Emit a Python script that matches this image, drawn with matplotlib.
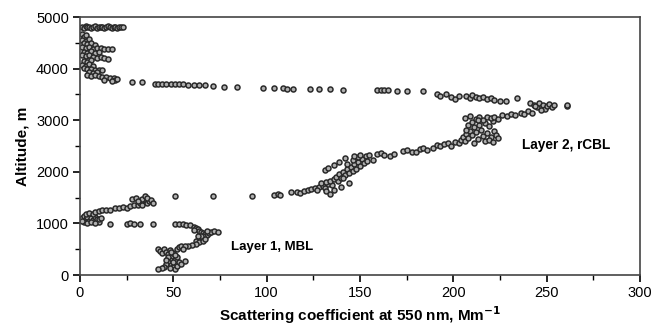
import numpy as np
import matplotlib.pyplot as plt
from matplotlib.ticker import MultipleLocator

plt.rcParams['font.family'] = ['Liberation Sans', 'DejaVu Sans']

# top row near 4800 m
top_x = [1, 2, 3, 4, 5, 6, 7, 8, 9, 10, 11, 12, 13, 14, 15, 16, 17, 18, 19, 20, 21, 22, 23]
top_alt = [4810, 4790, 4820, 4800, 4815, 4795, 4805, 4820, 4790, 4810, 4800, 4815, 4795,
           4810, 4820, 4800, 4790, 4810, 4805, 4795, 4815, 4800, 4810]

# upper cluster close to the axis (3800-4700 m)
upper_x = [1, 2, 3, 1, 3, 5, 2, 4, 6, 8, 1, 3, 5, 7, 9, 11, 13, 15, 17, 2, 4, 6, 8, 10,
           1, 3, 5, 7, 9, 11, 13, 15, 2, 4, 6, 1, 3, 5, 7, 2, 4, 6, 8, 10, 12, 5, 7, 9,
           4, 6, 8, 10, 12, 14, 16, 18, 19, 20, 17, 13]
upper_alt = [4680, 4620, 4650, 4560, 4540, 4580, 4490, 4470, 4500, 4460, 4420, 4400, 4420,
             4390, 4410, 4400, 4380, 4390, 4380, 4330, 4310, 4340, 4300, 4320, 4260, 4240,
             4260, 4220, 4200, 4220, 4200, 4190, 4150, 4130, 4160, 4080, 4060, 4090, 4050,
             4010, 3990, 4000, 3980, 3970, 3980, 3930, 3910, 3930, 3870, 3860, 3880, 3850,
             3840, 3830, 3820, 3810, 3780, 3800, 3770, 3790]

# sparse line at ~3700 m running out to the upper part of layer 2
line_x = [28, 33, 40, 42, 44, 46, 49, 51, 53, 55, 58, 61, 64, 67, 71, 77, 84, 98, 104, 109,
          111, 114, 123, 128, 134, 141, 159, 161, 163, 165, 170, 175, 184,
          191, 193, 196, 199, 201, 203, 207, 209, 210, 212, 214, 216, 218, 220, 222, 225,
          228, 234, 241, 243, 245, 246, 248, 249, 250, 251, 253, 254, 247, 244, 261, 261]
line_alt = [3735, 3735, 3710, 3710, 3705, 3710, 3700, 3700, 3705, 3700, 3690, 3690, 3680,
            3680, 3660, 3650, 3650, 3630, 3620, 3630, 3610, 3615, 3610, 3600, 3600, 3590,
            3590, 3585, 3590, 3580, 3575, 3570, 3560,
            3500, 3480, 3510, 3460, 3420, 3480, 3470, 3440, 3490, 3460, 3430, 3450, 3420,
            3440, 3390, 3370, 3380, 3430, 3340, 3300, 3250, 3330, 3290, 3210, 3270, 3310,
            3260, 3300, 3200, 3280, 3270, 3290]

# layer 2 (rCBL) band from ~1550 m up to ~3150 m
band_x = [51, 71, 92, 104, 106, 107, 113, 116, 118, 120, 122, 124, 126, 128, 127, 130, 131,
          133, 129, 132, 135, 134, 136, 138, 137, 139, 140, 141, 142, 143, 144, 145, 146,
          147, 148, 149, 150, 151, 149, 152, 153, 154, 146, 143, 141, 144, 140, 132, 134,
          136, 131, 133, 136, 139, 142, 147, 150, 155, 157,
          159, 161, 163, 166, 168, 173, 175, 178, 180, 182, 184, 186, 189, 191, 193, 195,
          197, 199, 201, 203, 204, 205, 206, 207, 208, 209, 210, 211, 212, 213, 214, 215,
          216, 217, 218, 219, 220, 221, 222, 223, 208, 210, 212, 214, 216, 218, 220, 222,
          224, 206, 209, 226, 229, 231, 233, 236, 238, 240, 242, 217, 219, 221, 224, 211,
          207, 213]
band_alt = [1530, 1540, 1530, 1560, 1570, 1560, 1600, 1610, 1590, 1620, 1640, 1660, 1680,
            1700, 1650, 1720, 1690, 1760, 1780, 1800, 1740, 1830, 1870, 1820, 1900, 1950,
            1880, 2000, 1930, 2050, 1980, 2100, 2020, 2150, 2060, 2200, 2120, 2250, 2280,
            2180, 2300, 2220, 2230, 2150, 1880, 1790, 1700, 1620, 1580, 1640, 2040, 2080,
            2130, 2200, 2260, 2310, 2320, 2320, 2230,
            2340, 2370, 2330, 2300, 2350, 2400, 2420, 2390, 2380, 2450, 2470, 2430, 2460,
            2520, 2500, 2540, 2560, 2510, 2580, 2560, 2620, 2680, 2600, 2740, 2660, 2800,
            2720, 2860, 2780, 2640, 2900, 2820, 2700, 2950, 2760, 2880, 2680, 2990, 2800,
            2720, 2900, 2960, 3020, 3060, 3010, 3070, 3040, 3060, 3030, 3040, 3080, 3100,
            3090, 3130, 3110, 3150, 3130, 3180, 3150, 2600, 2620, 2580, 2650, 2550, 2810,
            3000]

# near-axis points around 1000-1500 m
low_x = [1, 2, 3, 4, 5, 6, 2, 4, 7, 8, 9, 10, 3, 5, 1, 6, 8, 10, 11, 7,
         8, 10, 12, 14, 16, 19, 21, 23, 25, 27, 29, 31, 32, 34, 35, 36, 37, 28, 30, 33,
         35, 36, 38, 39, 31, 33,
         16, 25, 27, 29, 32, 39]
low_alt = [1100, 1150, 1080, 1120, 1050, 1100, 1020, 1000, 1060, 1130, 1080, 1020, 1180,
           1200, 1050, 1030, 1010, 1090, 1100, 1180,
           1230, 1250, 1260, 1270, 1260, 1290, 1300, 1310, 1290, 1330, 1350, 1360, 1390,
           1420, 1450, 1400, 1430, 1470, 1500, 1480, 1530, 1500, 1460, 1400, 1440, 1350,
           990, 990, 1000, 990, 980, 990]

# layer 1 (MBL)
mbl_x = [51, 53, 55, 57, 59, 61, 62, 63, 64, 65, 66, 67, 68, 69, 70, 72, 74, 66, 65, 64,
         63, 62, 64, 66, 62, 60, 58, 65, 67, 63, 61, 68,
         42, 43, 44, 45, 46, 47, 48, 49, 50, 51, 52, 53, 54, 56, 55, 48, 47, 46, 49, 50,
         51, 52, 53, 54, 56, 45, 44, 42, 48, 50, 52, 47, 49, 51, 46]
mbl_alt = [990, 980, 990, 970, 960, 940, 920, 890, 860, 840, 820, 800, 780, 820, 840, 850,
           830, 760, 720, 700, 680, 650, 640, 660, 600, 590, 570, 760, 700, 760, 880, 860,
           500, 470, 430, 510, 450, 400, 480, 350, 420, 300, 510, 550, 560, 570, 500, 300,
           260, 220, 200, 160, 120, 180, 250, 220, 270, 150, 130, 120, 130, 250, 340, 350,
           450, 380, 300]

fig = plt.figure(figsize=(6.54, 3.29), dpi=100)
ax = fig.add_axes([0.1223, 0.1641, 0.8563, 0.7839])

for xs, ys in [(top_x, top_alt), (upper_x, upper_alt), (line_x, line_alt),
               (band_x, band_alt), (low_x, low_alt), (mbl_x, mbl_alt)]:
    ax.plot(xs, ys, 'o', ms=3.6, mfc='#b0b0b0', mec='#2a2a2a', mew=1.1, ls='none')

ax.text(81, 545, 'Layer 1, MBL', fontsize=9.5, fontweight='bold', va='center', ha='left')
ax.text(237, 2530, 'Layer 2, rCBL', fontsize=9.8, fontweight='bold', va='center', ha='left')

ax.set_xlim(0, 300)
ax.set_ylim(0, 5000)
ax.xaxis.set_major_locator(MultipleLocator(50))
ax.xaxis.set_minor_locator(MultipleLocator(25))
ax.yaxis.set_major_locator(MultipleLocator(1000))
ax.yaxis.set_minor_locator(MultipleLocator(500))
ax.tick_params(which='major', direction='out', length=5, width=1.2, labelsize=10.5, pad=3)
ax.tick_params(which='minor', direction='out', length=3.5, width=1.0)
for s in ax.spines.values():
    s.set_linewidth(1.2)
    s.set_color('#444444')

ax.set_xlabel('Scattering coefficient at 550 nm, Mm$^{\\mathbf{-1}}$', fontsize=11,
              fontweight='bold', labelpad=3)
ax.set_ylabel('Altitude, m', fontsize=11, fontweight='bold', labelpad=5)

plt.savefig('out.png', dpi=100)
